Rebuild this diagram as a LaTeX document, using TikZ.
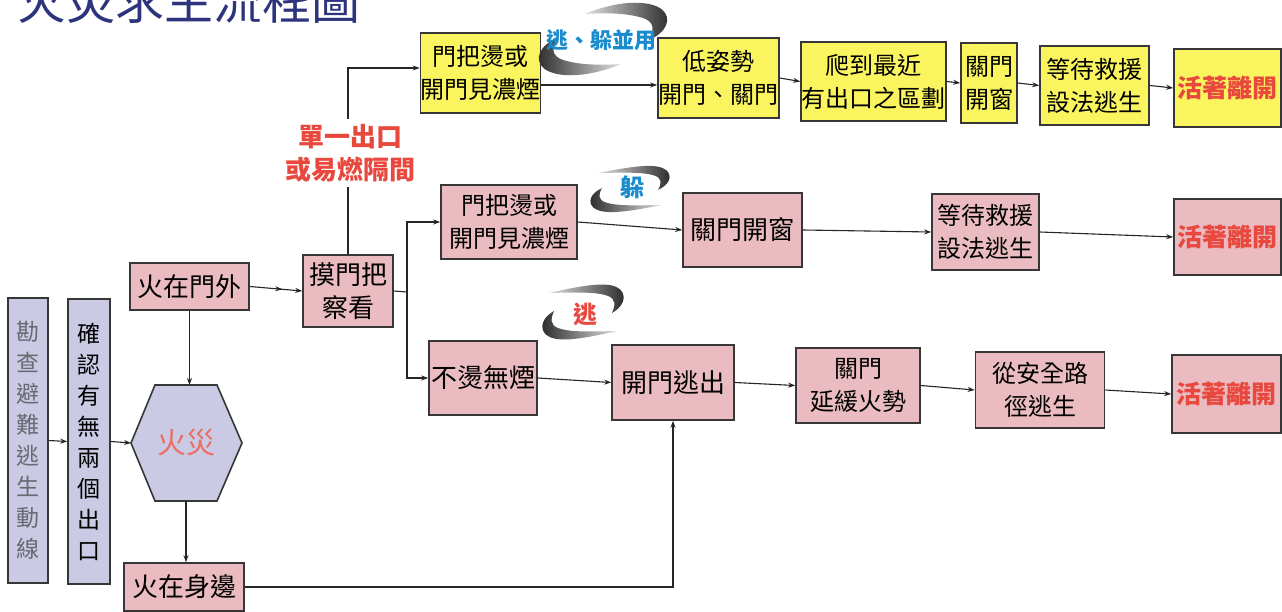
\documentclass[tikz,border=0pt]{standalone}
\usepackage{fontspec}
\newfontfamily\cjk{Noto Sans CJK TC}
\usetikzlibrary{arrows.meta,calc,decorations.markings}
\definecolor{yfill}{RGB}{250,245,95}
\definecolor{pfill}{RGB}{234,188,193}
\definecolor{lfill}{RGB}{202,202,228}
\definecolor{bord}{RGB}{55,55,55}
\definecolor{redt}{RGB}{232,72,62}
\definecolor{bluet}{RGB}{25,140,205}
\definecolor{navy}{RGB}{45,52,125}
\definecolor{grayt}{RGB}{105,105,115}
\tikzset{
 box/.style={draw=bord, line width=1.6pt, align=center, inner sep=0pt, font=\cjk\fontsize{24}{33}\selectfont, text=black},
 ybox/.style={box, fill=yfill},
 pbox/.style={box, fill=pfill},
 lbox/.style={box, fill=lfill, font=\cjk\fontsize{23}{31}\selectfont},
 big/.style={font=\cjk\fontsize{26}{33}\selectfont},
 redbig/.style={font=\cjk\bfseries\fontsize{25}{33}\selectfont, text=redt},
 arr/.style={draw=black!85, line width=1.1pt, -{Stealth[length=7pt,width=5pt]}},
 ln/.style={draw=black!85, line width=1.1pt},
 lab/.style={inner sep=2pt, align=center},
}
\newcommand\swooshes[5]{%
 \begin{scope}[shift={(#1,#2)}, xscale=#3, yscale=#4]
  \shade[left color=gray!25, right color=black!85]
   (#5,-0.76) .. controls (0.2,-1.14) and (0.74,-1.22) .. (0.98,-0.9)
   .. controls (1.16,-0.62) and (1.06,-0.2) .. (0.76,0.04)
   .. controls (0.86,-0.28) and (0.86,-0.52) .. (0.66,-0.64)
   .. controls (0.4,-0.78) and (0.1,-0.8) .. cycle;
  \shade[left color=black!85, right color=gray!25]
   ({-1*(#5)},0.76) .. controls (-0.2,1.14) and (-0.74,1.22) .. (-0.98,0.9)
   .. controls (-1.16,0.62) and (-1.06,0.2) .. (-0.76,-0.04)
   .. controls (-0.86,0.28) and (-0.86,0.52) .. (-0.66,0.64)
   .. controls (-0.4,0.78) and (-0.1,0.8) .. cycle;
 \end{scope}}
\begin{document}
\begin{tikzpicture}[x=1pt,y=-1pt]
\useasboundingbox (0,0) rectangle (1282,612);
\clip (0,0) rectangle (1282,612);
\fill[white] (0,0) rectangle (1282,612);

% title (cut at top)
\node[anchor=base west, inner sep=0pt, font=\cjk\fontsize{49}{49}\selectfont, text=navy] (title) at (17,20) {火災求生流程圖};

% top row (yellow)
\node[ybox, minimum width=119pt, minimum height=80pt] (y1) at (480.5,73) {門把燙或\\開門見濃煙};
\node[ybox, minimum width=121pt, minimum height=80pt] (y2) at (718.5,78) {低姿勢\\開門、關門};
\node[ybox, minimum width=145pt, minimum height=79pt] (y3) at (873.5,81.5) {爬到最近\\有出口之區劃};
\node[ybox, minimum width=56pt, minimum height=80pt] (y4) at (989,83) {關門\\開窗};
\node[ybox, minimum width=109pt, minimum height=79pt] (y5) at (1094.5,85.5) {等待救援\\設法逃生};
\node[ybox, redbig, minimum width=107pt, minimum height=78pt] (y6) at (1227.5,88) {活著離開};

% middle row (pink)
\node[pbox, minimum width=136pt, minimum height=74pt] (p1) at (509,222) {門把燙或\\開門見濃煙};
\node[pbox, big, minimum width=119pt, minimum height=74pt] (p2) at (742.5,230) {關門開窗};
\node[pbox, minimum width=107pt, minimum height=76pt] (p3) at (985.5,232) {等待救援\\設法逃生};
\node[pbox, redbig, minimum width=107pt, minimum height=76pt] (p4) at (1227.5,237) {活著離開};

% lower row
\node[pbox, big, minimum width=119pt, minimum height=47pt] (fm) at (189.5,286.5) {火在門外};
\node[pbox, big, minimum width=90pt, minimum height=72pt] (mp) at (348,291) {摸門把\\察看};
\node[pbox, big, minimum width=108pt, minimum height=74pt] (nb) at (483,378) {不燙無煙};
\node[pbox, big, minimum width=122pt, minimum height=75pt] (km) at (673,382.5) {開門逃出};
\node[pbox, minimum width=124pt, minimum height=75pt] (gm) at (858,385.5) {關門\\延緩火勢};
\node[pbox, minimum width=129pt, minimum height=76pt] (cs) at (1040,390) {從安全路\\徑逃生};
\node[pbox, redbig, minimum width=109pt, minimum height=78pt] (p5) at (1226.5,394) {活著離開};

% left column
\node[lbox, text=grayt, minimum width=40pt, minimum height=285pt] (ca) at (28,440.5) {勘\\查\\避\\難\\逃\\生\\動\\線};
\node[lbox, minimum width=42pt, minimum height=285pt] (cb) at (89,441.5) {確\\認\\有\\無\\兩\\個\\出\\口};

% hexagon
\coordinate (hex) at (186,443);
\coordinate (htop) at ($(hex)+(0,-58)$);
\coordinate (hbot) at ($(hex)+(0,58)$);
\coordinate (hleft) at ($(hex)+(-55,0)$);
\coordinate (hright) at ($(hex)+(56,0)$);
\filldraw[fill=lfill, draw=bord, line width=1.6pt, line join=miter] ($(hex)+(-31,-58)$) -- ($(hex)+(31,-58)$) -- (hright) -- ($(hex)+(31,58)$) -- ($(hex)+(-31,58)$) -- (hleft) -- cycle;
\node[inner sep=0pt, font=\cjk\fontsize{29}{29}\selectfont, text=redt!80] (fire) at (hex) {火災};

\node[pbox, big, minimum width=120pt, minimum height=48pt] (fb) at (184,587) {火在身邊};

% labels
\node[lab, font=\cjk\bfseries\fontsize{26}{33}\selectfont, text=redt, inner sep=5pt] (lbl) at (350,153) {單一出口\\或易燃隔間};
\swooshes{603}{39}{60}{33}{-0.3}
\node[lab, font=\cjk\bfseries\fontsize{22}{22}\selectfont, text=bluet] (l1) at (601,40) {逃、躲並用};
\swooshes{630}{189}{37}{21}{-0.86}
\node[lab, font=\cjk\bfseries\fontsize{24}{24}\selectfont, text=bluet] (l2) at (632,187) {躲};
\swooshes{583}{312}{38}{25}{-0.9}
\node[lab, font=\cjk\bfseries\fontsize{24}{24}\selectfont, text=redt] (l3) at (585,314) {逃};

% connectors: left part
\draw[arr] (ca.east) -- (cb.west);
\draw[arr] (cb.east) -- (hleft);
\draw[arr] (fm.south) -- (fm.south |- htop);
\draw[arr] (hbot) -- (hbot |- fb.north);
\draw[arr] (fb.east) -| (km.south);
\draw[arr, postaction={decorate}, decoration={markings, mark=at position 0.62 with {\arrow{Stealth[length=7pt,width=5pt]}}}] (fm.east) -- (mp.west);

% branch from 摸門把
\coordinate (br) at (407,292);
\draw[ln] (mp.east) -- (br);
\draw[arr] (br) |- (p1.west);
\draw[arr] (br) |- (nb.west);
\draw[ln] (mp.north) -- (mp.north |- lbl.south);
\draw[arr] (mp.north |- lbl.north) |- ([yshift=5pt]y1.west);

% top row
\draw[arr] ([yshift=-12pt]y1.east) -- ([yshift=-7pt]y2.west);
\draw[arr] (y2.east) -- (y3.west);
\draw[arr] (y3.east) -- (y4.west);
\draw[arr] (y4.east) -- (y5.west);
\draw[arr] (y5.east) -- (y6.west);

% middle row
\draw[arr] (p1.east) -- (p2.west);
\draw[arr] (p2.east) -- (p3.west);
\draw[arr] (p3.east) -- (p4.west);

% bottom row
\draw[arr] (nb.east) -- (km.west);
\draw[arr] (km.east) -- (gm.west);
\draw[arr] (gm.east) -- (cs.west);
\draw[arr] (cs.east) -- (p5.west);
\end{tikzpicture}
\end{document}
